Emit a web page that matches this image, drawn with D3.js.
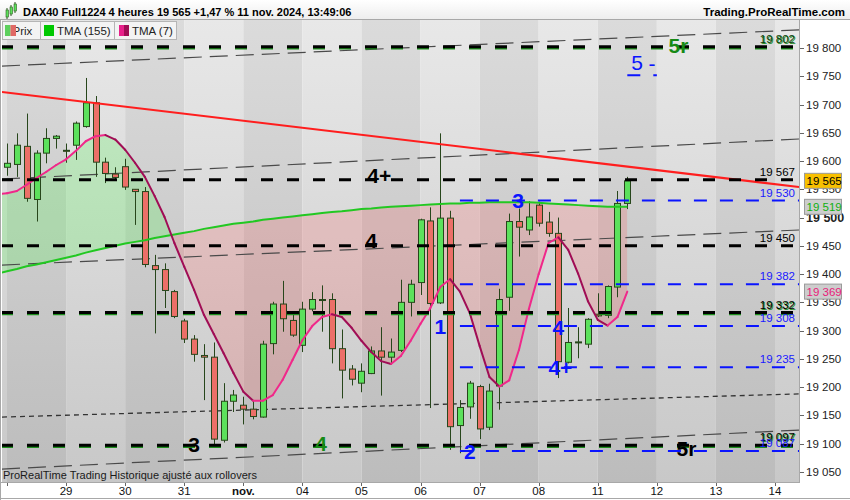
<!DOCTYPE html>
<html>
<head>
<meta charset="utf-8">
<script src="https://cdn.jsdelivr.net/npm/d3@7"></script>
<style>
body { margin: 0; background: #fff; }
svg { display: block; font-family: "Liberation Sans", Arial, sans-serif; }
</style>
</head>
<body>
<div id="chart"></div>
<script>
// 4h bars, DAX40 Full1224, 28 oct. -> 11 nov. 2024
var opens  = [19589,19594,19626,19532,19614,19640,19619,19628,19661,19703,19598,19577,19590,19550,19546,19415,
              19408,19369,19317,19285,19256,19253,19106,19175,19168,19161,19147,19277,19347,19318,19274,19338,
              19355,19355,19268,19232,19207,19224,19264,19253,19265,19350,19385,19494,19349,19499,19132,19165,
              19201,19129,19202,19359,19493,19478,19522,19492,19472,19244,19279,19276,19329,19327,19377,19525];
var highs  = [19631,19649,19684,19619,19658,19646,19631,19670,19747,19715,19606,19589,19604,19550,19554,19434,
              19419,19372,19321,19292,19276,19279,19207,19195,19183,19177,19282,19351,19388,19329,19351,19368,
              19380,19366,19302,19239,19242,19272,19306,19286,19390,19390,19498,19518,19649,19512,19177,19211,
              19204,19206,19374,19507,19516,19529,19528,19510,19500,19340,19306,19322,19366,19380,19547,19572];
var lows   = [19574,19572,19528,19493,19596,19622,19597,19602,19659,19572,19561,19566,19549,19487,19412,19295,
              19340,19322,19278,19245,19177,19098,19102,19156,19134,19143,19146,19258,19298,19289,19262,19334,
              19298,19242,19180,19203,19191,19223,19185,19242,19262,19325,19363,19163,19347,19089,19083,19144,
              19108,19124,19160,19335,19431,19469,19484,19466,19216,19242,19251,19269,19324,19322,19359,19515];
var closes = [19596,19628,19534,19614,19640,19644,19618,19667,19703,19598,19578,19571,19554,19546,19417,19408,
              19371,19325,19285,19258,19253,19108,19175,19186,19161,19148,19276,19347,19321,19292,19338,19355,
              19354,19268,19230,19214,19228,19264,19253,19262,19350,19382,19496,19348,19499,19130,19164,19207,
              19126,19193,19355,19493,19483,19501,19490,19472,19245,19279,19280,19320,19326,19378,19525,19565];

// indicators, first value sits one bar before the first candle
var tmaStart = -1;
var tma155 = [19401,19405,19409,19414,19417,19421,19425,19429,19433,19438,19442,19446,19450,19454,19457,19460,
              19464,19467,19470,19473,19476,19480,19483,19486,19489,19491,19493,19496,19498,19500,19502,19504,
              19506,19508,19510,19511,19513,19515,19516,19518,19519,19520,19521,19522,19523,19524,19525,19525,
              19526,19526,19527,19527,19527,19527,19527,19526,19525,19524,19523,19522,19521,19520,19519,19519,19519];
var tma7   = [19541,19543,19547,19558,19570,19581,19593,19603,19618,19635,19644,19646,19638,19620,19597,19572,
              19538,19501,19455,19413,19372,19328,19294,19260,19225,19192,19176,19176,19186,19213,19248,19283,
              19308,19324,19329,19324,19305,19282,19262,19246,19241,19255,19282,19312,19340,19377,19391,19369,
              19331,19273,19218,19201,19212,19266,19338,19400,19455,19465,19443,19401,19352,19319,19309,19324,19369];

var barsPerDay = 6;
var dayLabels = ["", "29", "30", "31", "nov.", "04", "05", "06", "07", "08", "11", "12", "13", "14"];
var priceTicks = d3.range(19050, 19801, 50);

// drawn levels
var blackLevels = [19802, 19567, 19450, 19332, 19097];
var greenLevels = [19802, 19332, 19097];
var blueLevels  = [19530, 19382, 19308, 19235, 19087];
var blueStart = 46;
var shortBlue = {v: 19752, from: 63, to: 66};

// sloped lines: value at left edge, value at right edge
var trendLine = [19722, 19554];
var channelLines = [[19768, 19832], [19568, 19639], [19416, 19478], [19055, 19124]];
var dottedLine = [19147, 19188];

var blackNotes = [{t: "4+", i: 37.8, v: 19575}, {t: "4", i: 37.0, v: 19459}, {t: "3", i: 19.0, v: 19098}, {t: "5r", i: 69.0, v: 19092}];
var greenNotes = [{t: "4", i: 31.9, v: 19100}, {t: "5r", i: 68.2, v: 19804}];
var blueNotes  = [{t: "1", i: 44.0, v: 19308}, {t: "2", i: 47.0, v: 19087}, {t: "3", i: 51.9, v: 19531},
                  {t: "4", i: 56.0, v: 19306}, {t: "4+", i: 56.2, v: 19234}];
var blueThin   = [{t: "5", i: 64.0, v: 19775}, {t: "-", i: 65.5, v: 19773}];

var lastPrice = 19565, last155 = 19519, last7 = 19369;

var W = 850, H = 500;
var plotL = 2, plotR = 799, plotT = 20, plotB = 482;

var x = d3.scaleLinear().domain([0, 78]).range([7, 775]);
var y = d3.scaleLinear().domain([19050, 19800]).range([471.9, 48]);
var iMin = x.invert(plotL), iMax = x.invert(plotR);
var fmt = function (v) { return d3.format(",")(v).replace(",", " "); };

var svg = d3.select("#chart").append("svg").attr("width", W).attr("height", H);
var defs = svg.append("defs");

function vGrad(id, c0, c1) {
    var g = defs.append("linearGradient").attr("id", id).attr("x1", 0).attr("y1", 0).attr("x2", 0).attr("y2", 1);
    g.append("stop").attr("offset", "0%").attr("stop-color", c0);
    g.append("stop").attr("offset", "100%").attr("stop-color", c1);
}
vGrad("gLight", "#e8e8e8", "#c8c8c8");
vGrad("gDark", "#dbdbdb", "#bcbcbc");
vGrad("gHead", "#ffffff", "#ededed");

defs.append("clipPath").attr("id", "plotClip")
    .append("rect").attr("x", plotL).attr("y", plotT).attr("width", plotR - plotL).attr("height", plotB - plotT);

var tmaIdx = tma155.map(function (d, k) { return k + tmaStart; });

defs.append("clipPath").attr("id", "aboveClip").append("path")
    .attr("d", d3.area().x(function (k) { return x(k); }).y0(plotT).y1(function (k) { return y(tma155[k - tmaStart]); })(tmaIdx));
defs.append("clipPath").attr("id", "belowClip").append("path")
    .attr("d", d3.area().x(function (k) { return x(k); }).y0(function (k) { return y(tma155[k - tmaStart]); }).y1(plotB)(tmaIdx));

var plot = svg.append("g").attr("clip-path", "url(#plotClip)");

// day bands
plot.selectAll("rect.band").data(d3.range(-1, dayLabels.length)).enter().append("rect")
    .attr("class", "band")
    .attr("x", function (d) { return x(d * barsPerDay); })
    .attr("width", x(barsPerDay) - x(0))
    .attr("y", plotT).attr("height", plotB - plotT)
    .attr("fill", function (d) { return Math.abs(d) % 2 === 1 ? "url(#gLight)" : "url(#gDark)"; });

// fill between the two averages
var between = d3.area()
    .x(function (k) { return x(k); })
    .y0(function (k) { return y(tma7[k - tmaStart]); })
    .y1(function (k) { return y(tma155[k - tmaStart]); });
plot.append("path").attr("d", between(tmaIdx)).attr("clip-path", "url(#aboveClip)")
    .attr("fill", "#33ff33").attr("fill-opacity", 0.2);
plot.append("path").attr("d", between(tmaIdx)).attr("clip-path", "url(#belowClip)")
    .attr("fill", "#ff4040").attr("fill-opacity", 0.18);

// sloped channel lines
var line2 = d3.line();
plot.selectAll("path.chan").data(channelLines).enter().append("path")
    .attr("class", "chan")
    .attr("d", function (d) { return line2([[x(iMin), y(d[0])], [x(iMax), y(d[1])]]); })
    .attr("stroke", "#4a4a4a").attr("stroke-width", 1.2).attr("stroke-dasharray", "18,8").attr("fill", "none");
plot.append("path")
    .attr("d", line2([[x(iMin), y(dottedLine[0])], [x(iMax), y(dottedLine[1])]]))
    .attr("stroke", "#333").attr("stroke-width", 1.3).attr("stroke-dasharray", "5,4").attr("fill", "none");

// candles
var bars = d3.range(closes.length);
var wickCol = "#27461b";
var cg = plot.append("g");
cg.selectAll("line.wick").data(bars).enter().append("line")
    .attr("x1", function (i) { return Math.round(x(i)) + 0.5; })
    .attr("x2", function (i) { return Math.round(x(i)) + 0.5; })
    .attr("y1", function (i) { return y(highs[i]); })
    .attr("y2", function (i) { return y(lows[i]); })
    .attr("stroke", wickCol).attr("stroke-width", 1);
cg.selectAll("rect.body").data(bars).enter().append("rect")
    .attr("x", function (i) { return Math.round(x(i)) - 2.5; })
    .attr("width", 6)
    .attr("y", function (i) { return y(Math.max(opens[i], closes[i])); })
    .attr("height", function (i) { return Math.max(1, Math.abs(y(opens[i]) - y(closes[i]))); })
    .attr("fill", function (i) { return closes[i] >= opens[i] ? "#5ce15c" : "#ec6f68"; })
    .attr("stroke", wickCol).attr("stroke-width", 1);

// TMA 155
plot.append("path")
    .attr("d", d3.line().x(function (k) { return x(k); }).y(function (k) { return y(tma155[k - tmaStart]); })(tmaIdx))
    .attr("stroke", "#22c822").attr("stroke-width", 2).attr("fill", "none");

// TMA 7, two colours for rising / falling
plot.selectAll("line.t7").data(tmaIdx.slice(1)).enter().append("line")
    .attr("x1", function (k) { return x(k - 1); })
    .attr("y1", function (k) { return y(tma7[k - 1 - tmaStart]); })
    .attr("x2", function (k) { return x(k); })
    .attr("y2", function (k) { return y(tma7[k - tmaStart]); })
    .attr("stroke", function (k) { return tma7[k - tmaStart] >= tma7[k - 1 - tmaStart] ? "#f0288a" : "#a00d55"; })
    .attr("stroke-width", 2).attr("stroke-linecap", "round");

// red trend line
plot.append("path")
    .attr("d", line2([[x(iMin), y(trendLine[0])], [x(iMax), y(trendLine[1])]]))
    .attr("stroke", "#ff1e1e").attr("stroke-width", 2).attr("fill", "none");

// horizontal levels
plot.selectAll("line.glev").data(greenLevels).enter().append("line")
    .attr("x1", plotL - 1).attr("x2", plotR)
    .attr("y1", function (v) { return y(v) + 1.2; }).attr("y2", function (v) { return y(v) + 1.2; })
    .attr("stroke", "#1e8f1e").attr("stroke-width", 3).attr("stroke-dasharray", "12,14");
plot.selectAll("line.blev").data(blackLevels).enter().append("line")
    .attr("x1", plotL - 1).attr("x2", plotR)
    .attr("y1", function (v) { return y(v); }).attr("y2", function (v) { return y(v); })
    .attr("stroke", "#000").attr("stroke-width", 3).attr("stroke-dasharray", "12,14");
plot.selectAll("line.ulev").data(blueLevels).enter().append("line")
    .attr("x1", x(blueStart)).attr("x2", plotR)
    .attr("y1", function (v) { return y(v); }).attr("y2", function (v) { return y(v); })
    .attr("stroke", "#0a14ff").attr("stroke-width", 2).attr("stroke-dasharray", "13,13");
plot.append("line")
    .attr("x1", x(shortBlue.from)).attr("x2", x(shortBlue.to))
    .attr("y1", y(shortBlue.v)).attr("y2", y(shortBlue.v))
    .attr("stroke", "#0a14ff").attr("stroke-width", 2).attr("stroke-dasharray", "13,13");

// level labels
var lab = plot.append("g").attr("font-size", 11.5).attr("text-anchor", "end");
lab.selectAll("text.gl").data(greenLevels).enter().append("text")
    .attr("x", 796).attr("y", function (v) { return y(v) - 3; })
    .attr("fill", "#1e8f1e").text(fmt);
lab.selectAll("text.bl").data(blackLevels).enter().append("text")
    .attr("x", 795).attr("y", function (v) { return y(v) - 4; })
    .attr("fill", function (v) { return v === blackLevels[0] ? "#0b3a0b" : "#000"; })
    .text(fmt);
lab.selectAll("text.ul").data(blueLevels).enter().append("text")
    .attr("x", 795).attr("y", function (v) { return y(v) - 4; })
    .attr("fill", "#1a1aff").text(fmt);

// wave annotations
function notes(data, col, weight) {
    plot.append("g").selectAll("text").data(data).enter().append("text")
        .attr("x", function (d) { return x(d.i); })
        .attr("y", function (d) { return y(d.v); })
        .attr("dy", "0.36em")
        .attr("text-anchor", "middle")
        .attr("font-size", 21).attr("font-weight", weight)
        .attr("fill", col)
        .text(function (d) { return d.t; });
}
notes(blackNotes, "#000", "bold");
notes(greenNotes, "#168a16", "bold");
notes(blueNotes, "#0a14ff", "bold");
notes(blueThin, "#0a14ff", "normal");

plot.append("text").attr("x", 3).attr("y", 479).attr("font-size", 11).attr("fill", "#1a1a1a")
    .text("ProRealTime Trading  Historique ajusté aux rollovers");

// header
svg.append("rect").attr("x", 0).attr("y", 0).attr("width", W).attr("height", plotT).attr("fill", "url(#gHead)");
svg.append("line").attr("x1", 0).attr("x2", W).attr("y1", plotT - 0.5).attr("y2", plotT - 0.5).attr("stroke", "#a8a8a8");
var icon = svg.append("g");
[[6, 10, 7], [10, 7, 7], [14, 4, 7]].forEach(function (c) {
    icon.append("line").attr("x1", c[0] + 1).attr("x2", c[0] + 1).attr("y1", c[1] - 2).attr("y2", c[1] + c[2] + 2)
        .attr("stroke", "#2d5a1e");
    icon.append("rect").attr("x", c[0]).attr("y", c[1]).attr("width", 2.5).attr("height", c[2])
        .attr("fill", "#5ce15c").attr("stroke", "#2d5a1e").attr("stroke-width", 0.6);
});
svg.append("text").attr("x", 23).attr("y", 15.5).attr("font-size", 11).attr("font-weight", "bold")
    .attr("fill", "#000").text("DAX40 Full1224 4 heures 19 565 +1,47 % 11 nov. 2024, 13:49:06");
svg.append("text").attr("x", 845).attr("y", 15.5).attr("font-size", 11.5).attr("font-weight", "bold")
    .attr("text-anchor", "end").attr("fill", "#000").text("Trading.ProRealTime.com");

// legend tabs
var tabs = [{x0: 2, x1: 40}, {x0: 40, x1: 114}, {x0: 114, x1: 176}];
svg.selectAll("rect.tab").data(tabs).enter().append("rect")
    .attr("x", function (d) { return d.x0 + 0.5; }).attr("y", 21.5)
    .attr("width", function (d) { return d.x1 - d.x0; }).attr("height", 18)
    .attr("fill", "#f3f3f3").attr("stroke", "#b5b5b5");
svg.append("text").attr("x", 12.5).attr("y", 35).attr("font-size", 11.5).attr("fill", "#222").text("Prix");
svg.append("rect").attr("x", 5).attr("y", 25).attr("width", 5.5).attr("height", 11).attr("fill", "#5ed05e");
svg.append("rect").attr("x", 10.5).attr("y", 25).attr("width", 5.5).attr("height", 11).attr("fill", "#e06a66");
svg.append("rect").attr("x", 44).attr("y", 25).attr("width", 10).attr("height", 11).attr("fill", "#00c800");
svg.append("text").attr("x", 57).attr("y", 35).attr("font-size", 11.5).attr("fill", "#222").text("TMA (155)");
svg.append("rect").attr("x", 119).attr("y", 25).attr("width", 5).attr("height", 11).attr("fill", "#e8208a");
svg.append("rect").attr("x", 124).attr("y", 25).attr("width", 5).attr("height", 11).attr("fill", "#a00d55");
svg.append("text").attr("x", 132).attr("y", 35).attr("font-size", 11.5).attr("fill", "#222").text("TMA (7)");

// right price axis
svg.append("rect").attr("x", plotR).attr("y", plotT).attr("width", W - plotR).attr("height", H - plotT).attr("fill", "#fff");
svg.append("line").attr("x1", plotR + 0.5).attr("x2", plotR + 0.5).attr("y1", plotT).attr("y2", plotB)
    .attr("stroke", "#a8a8a8");
var ya = svg.append("g");
ya.selectAll("line").data(priceTicks).enter().append("line")
    .attr("x1", plotR + 1).attr("x2", plotR + 5)
    .attr("y1", function (v) { return Math.round(y(v)) + 0.5; }).attr("y2", function (v) { return Math.round(y(v)) + 0.5; })
    .attr("stroke", "#666");
ya.selectAll("text").data(priceTicks).enter().append("text")
    .attr("x", plotR + 7).attr("y", function (v) { return y(v) + 4; })
    .attr("font-size", function (v) { return v % 500 === 0 ? 12.5 : 11.5; })
    .attr("font-weight", function (v) { return v % 500 === 0 ? "bold" : "normal"; })
    .attr("fill", "#222").text(fmt);

var boxes = [{v: last155, fill: "#cdcdcd", col: "#10b010"}, {v: last7, fill: "#cdcdcd", col: "#e8207a"},
             {v: lastPrice, fill: "#f8c000", col: "#000"}];
var bx = svg.append("g");
bx.selectAll("rect").data(boxes).enter().append("rect")
    .attr("x", plotR + 5.5).attr("y", function (d) { return y(d.v) - 7.5; })
    .attr("width", 37).attr("height", 15)
    .attr("fill", function (d) { return d.fill; }).attr("stroke", "#9a9a9a");
bx.selectAll("text").data(boxes).enter().append("text")
    .attr("x", plotR + 7.5).attr("y", function (d) { return y(d.v) + 4; })
    .attr("font-size", 11.5).attr("fill", function (d) { return d.col; })
    .text(function (d) { return fmt(d.v); });

// bottom date axis
svg.append("rect").attr("x", 0).attr("y", plotB).attr("width", W).attr("height", H - plotB).attr("fill", "#fff");
svg.append("line").attr("x1", 0).attr("x2", plotR + 1).attr("y1", plotB + 0.5).attr("y2", plotB + 0.5).attr("stroke", "#a8a8a8");
var xa = svg.append("g");
var days = d3.range(dayLabels.length);
xa.selectAll("line").data(days).enter().append("line")
    .attr("x1", function (k) { return Math.round(x(k * barsPerDay)) + 0.5; })
    .attr("x2", function (k) { return Math.round(x(k * barsPerDay)) + 0.5; })
    .attr("y1", plotB + 1).attr("y2", plotB + 4)
    .attr("stroke", "#666");
xa.selectAll("text").data(days).enter().append("text")
    .attr("x", function (k) { return x(k * barsPerDay); })
    .attr("y", 495)
    .attr("text-anchor", "middle")
    .attr("font-size", 11.5)
    .attr("font-weight", function (k) { return dayLabels[k] === "nov." ? "bold" : "normal"; })
    .attr("fill", "#111")
    .text(function (k) { return dayLabels[k]; });

// outer frame
svg.append("line").attr("x1", 0.5).attr("x2", 0.5).attr("y1", plotT).attr("y2", H).attr("stroke", "#a8a8a8");
svg.append("line").attr("x1", 0).attr("x2", W).attr("y1", H - 1.5).attr("y2", H - 1.5).attr("stroke", "#a8a8a8");
</script>
</body>
</html>
